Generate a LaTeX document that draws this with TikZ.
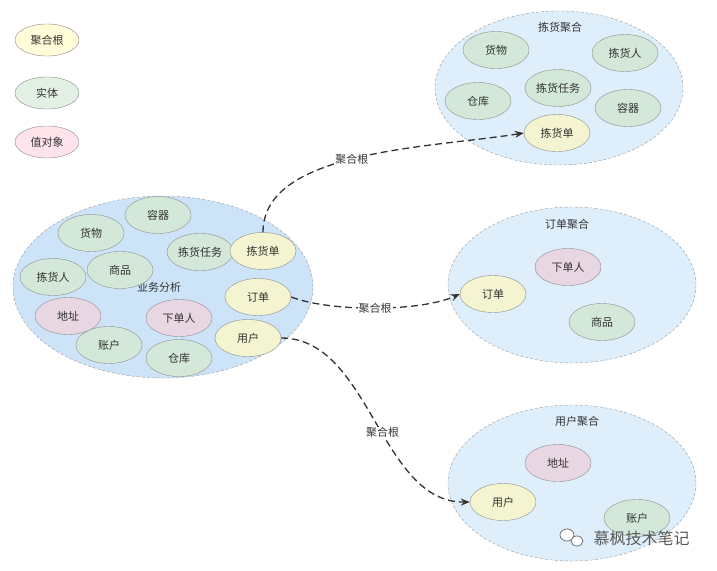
\documentclass[tikz,border=0pt]{standalone}
\usepackage{fontspec}
\setmainfont{Noto Sans CJK SC}
\usetikzlibrary{shapes.geometric,arrows.meta}
\definecolor{rootfill}{HTML}{F4F4D0}
\definecolor{entityfill}{HTML}{D3E8D9}
\definecolor{valuefill}{HTML}{E8D6E2}
\definecolor{lrootfill}{HTML}{FFFCDA}
\definecolor{lentityfill}{HTML}{E3F1E4}
\definecolor{lvaluefill}{HTML}{FFE3EA}
\definecolor{bizfill}{HTML}{CDE4F8}
\definecolor{aggfill}{HTML}{DEEEFB}

\begin{document}
\begin{tikzpicture}
  [x=1pt,y=-1pt,
   every node/.style={font=\fontsize{11}{13}\selectfont,text=black!80},
   obj/.style={ellipse,draw=black!45,minimum width=66pt,minimum height=37pt,inner sep=0pt},
   root/.style={obj,fill=rootfill},
   entity/.style={obj,fill=entityfill},
   value/.style={obj,fill=valuefill},
   legend/.style={ellipse,draw=black!45,minimum width=64pt,minimum height=32pt,inner sep=0pt},
   group/.style={ellipse,draw=black!40,dash pattern=on 3pt off 2pt,inner sep=0pt},
   link/.style={draw=black!80,line width=1.3pt,dash pattern=on 7pt off 4pt,-{Stealth[length=9pt,width=7pt]}},
   linklabel/.style={fill=white,inner sep=1pt}]
  \useasboundingbox (0,0) rectangle (717,570);

  % legend
  \node[legend,fill=lrootfill] (lroot) at (47,40) {聚合根};
  \node[legend,fill=lentityfill] (lentity) at (47,93) {实体};
  \node[legend,fill=lvaluefill] (lvalue) at (47,142) {值对象};

  % business analysis
  \node[group,fill=bizfill,minimum width=300pt,minimum height=182pt] (biz) at (163,287) {};
  \node (bizlabel) at (159,287) {业务分析};
  \node[entity] (bcontainer) at (158,215) {容器};
  \node[entity] (bgoods) at (91,233) {货物};
  \node[entity] (btask) at (200,252) {拣货任务};
  \node[root] (bpicklist) at (263,251) {拣货单};
  \node[entity] (bpicker) at (53,277) {拣货人};
  \node[entity] (bproduct) at (120,270) {商品};
  \node[value] (baddress) at (68,316) {地址};
  \node[value] (bbuyer) at (179,318) {下单人};
  \node[root] (border) at (258,297) {订单};
  \node[root] (buser) at (248,338) {用户};
  \node[entity] (baccount) at (109,345) {账户};
  \node[entity] (bwarehouse) at (179,358) {仓库};

  % picking aggregate
  \node[group,fill=aggfill,minimum width=248pt,minimum height=154pt] (pick) at (559,88) {};
  \node (picklabel) at (560,27) {拣货聚合};
  \node[entity] (pgoods) at (496,50) {货物};
  \node[entity] (ppicker) at (625,53) {拣货人};
  \node[entity] (ptask) at (558,88) {拣货任务};
  \node[entity] (pwarehouse) at (478,101) {仓库};
  \node[entity] (pcontainer) at (628,108) {容器};
  \node[root] (ppicklist) at (557,133) {拣货单};

  % order aggregate
  \node[group,fill=aggfill,minimum width=248pt,minimum height=156pt] (ord) at (572,285) {};
  \node (ordlabel) at (567,224) {订单聚合};
  \node[value] (obuyer) at (568,267) {下单人};
  \node[root] (oorder) at (493,294) {订单};
  \node[entity] (oproduct) at (602,322) {商品};

  % user aggregate
  \node[group,fill=aggfill,minimum width=248pt,minimum height=156pt] (usr) at (572,483) {};
  \node (usrlabel) at (577,421) {用户聚合};
  \node[value] (uaddress) at (558,463) {地址};
  \node[root] (uuser) at (503,502) {用户};
  \node[entity] (uaccount) at (637,518) {账户};

  % links
  \draw[link] (bpicklist.north) .. controls (263,150) and (430,148) .. node[linklabel,pos=0.48] (lk1) {聚合根} (ppicklist.west);
  \draw[link] (border.east) .. controls (330,312) and (420,312) .. node[linklabel,pos=0.5] (lk2) {聚合根} (oorder.west);
  \draw[link] (buser.east) .. controls (370,338) and (380,503) .. node[linklabel,pos=0.55] (lk3) {聚合根} (uuser.west);

  % watermark
  \draw[black!55,fill=white,line width=0.8pt] (567,535) ellipse (7 and 6);
  \draw[black!55,fill=white,line width=0.8pt] (577,541) ellipse (6 and 5);
  \node[font=\fontsize{16}{18}\selectfont,text=black!65,anchor=west] (mark) at (590,538) {慕枫技术笔记};
\end{tikzpicture}
\end{document}
